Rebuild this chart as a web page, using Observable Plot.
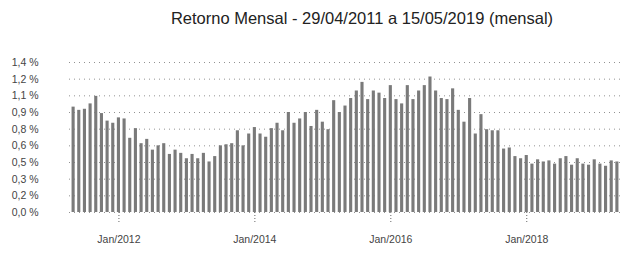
<!DOCTYPE html>
<html>
<head>
<meta charset="utf-8">
<script src="https://cdn.jsdelivr.net/npm/d3@7"></script>
<script src="https://cdn.jsdelivr.net/npm/@observablehq/plot@0.6"></script>
<style>
  html, body { margin: 0; padding: 0; background: #fff; }
  body { width: 622px; height: 265px; overflow: hidden; font-family: "Liberation Sans", Arial, sans-serif; }
  #title { height: 32px; padding-top: 8px; line-height: 20px; font-size: 16.5px; color: #222; text-align: center; margin-left: 102px; }
</style>
</head>
<body>
<div id="title">Retorno Mensal - 29/04/2011 a 15/05/2019 (mensal)</div>
<div id="chart"></div>
<script>
const titleText = "Retorno Mensal - 29/04/2011 a 15/05/2019 (mensal)";
const firstMonth = "2011-05";
const lastMonth = "2019-05";
const returns2011 = [0.98, 0.95, 0.96, 1.01, 1.08, 0.92, 0.85, 0.83];
const returns2012 = [0.88, 0.87, 0.69, 0.78, 0.64, 0.68, 0.58, 0.62, 0.64, 0.54, 0.58, 0.55];
const returns2013 = [0.50, 0.54, 0.50, 0.55, 0.47, 0.52, 0.62, 0.63, 0.64, 0.76, 0.62, 0.73];
const returns2014 = [0.79, 0.73, 0.70, 0.78, 0.83, 0.76, 0.93, 0.83, 0.87, 0.93, 0.80, 0.95];
const returns2015 = [0.84, 0.77, 1.04, 0.93, 0.99, 1.06, 1.13, 1.21, 1.05, 1.13, 1.11, 1.06];
const returns2016 = [1.18, 1.05, 1.01, 1.18, 1.05, 1.13, 1.18, 1.26, 1.13, 1.06, 1.05, 1.15];
const returns2017 = [0.95, 0.84, 1.06, 0.73, 0.91, 0.77, 0.76, 0.76, 0.59, 0.60, 0.52, 0.50];
const returns2018 = [0.53, 0.45, 0.49, 0.47, 0.48, 0.45, 0.50, 0.52, 0.44, 0.50, 0.45, 0.44];
const returns2019 = [0.49, 0.45, 0.43, 0.48, 0.47];
const yTicks = [0, 0.155, 0.31, 0.465, 0.62, 0.775, 0.93, 1.085, 1.24, 1.395];
const xTicks = ["2012-01", "2014-01", "2016-01", "2018-01"];
const xTickLabels = ["Jan/2012", "Jan/2014", "Jan/2016", "Jan/2018"];

const values = [].concat(returns2011, returns2012, returns2013, returns2014, returns2015,
  returns2016, returns2017, returns2018, returns2019);
const fmtM = d3.utcFormat("%Y-%m");
const months = d3.utcMonth.range(d3.utcParse("%Y-%m")(firstMonth), d3.utcMonth.offset(d3.utcParse("%Y-%m")(lastMonth), 1)).map(fmtM);
const data = months.map((m, i) => ({month: m, value: values[i]}));

const chart = Plot.plot({
  width: 622,
  height: 225,
  marginTop: 22,
  marginBottom: 53,
  marginLeft: 69,
  marginRight: 1,
  style: {fontFamily: "Liberation Sans, Arial, sans-serif", fontSize: "10.5px", color: "#444", background: "#fff"},
  x: {type: "band", domain: months, padding: 0.45},
  y: {domain: [0, 1.395]},
  marks: [
    Plot.gridY(yTicks, {stroke: "#777", strokeOpacity: 0.8, strokeDasharray: "1,4"}),
    Plot.barY(data, {x: "month", y: "value", fill: "#7a7a7a"}),
    Plot.axisY({ticks: yTicks, tickSize: 0, tickPadding: 31, label: null,
      tickFormat: d => d.toFixed(1).replace(".", ",") + " %"}),
    Plot.axisX({ticks: xTicks, tickSize: 10, tickPadding: 13, label: null,
      stroke: "#666", strokeDasharray: "1,2",
      tickFormat: d => xTickLabels[xTicks.indexOf(d)]})
  ]
});
document.getElementById("chart").appendChild(chart);
</script>
</body>
</html>
